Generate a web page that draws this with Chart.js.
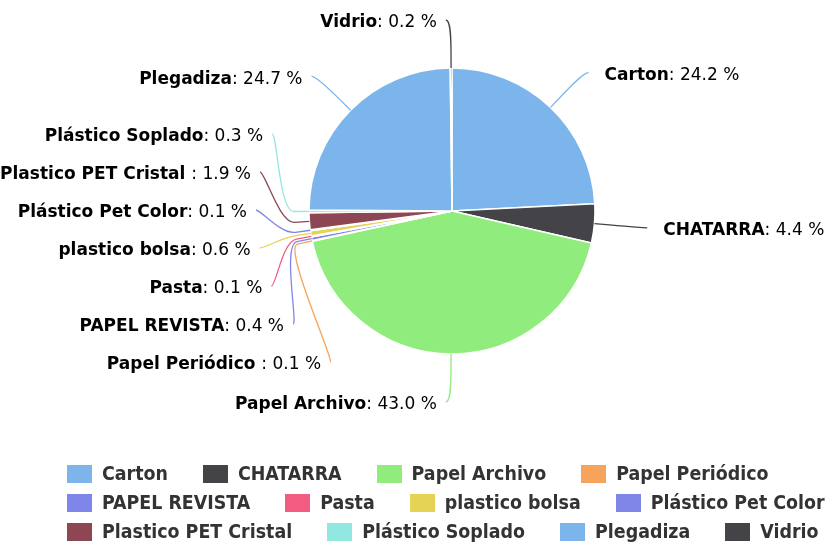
<!DOCTYPE html>
<html>
<head>
<meta charset="utf-8">
<script src="https://cdn.jsdelivr.net/npm/chart.js@4.4.1/dist/chart.umd.min.js"></script>
<style>
  html, body { margin: 0; padding: 0; background: #ffffff; overflow: hidden; }
  #wrap { position: relative; width: 829px; height: 543px; }
  #legend {
    position: absolute; left: 67px; top: 464px; width: 790px;
    display: flex; flex-wrap: wrap; column-gap: 35px; row-gap: 10px;
    font-family: "DejaVu Sans Condensed", "DejaVu Sans", sans-serif;
    font-stretch: condensed; font-weight: bold; font-size: 19.4px; color: #333333;
  }
  .item { display: flex; align-items: center; height: 19px; line-height: 19px; white-space: nowrap; }
  .box { width: 25px; height: 18px; margin-right: 10px; flex: none; }
</style>
</head>
<body>
<div id="wrap">
  <canvas id="c"></canvas>
  <div id="legend"></div>
</div>
<script>
// ---- data ----
const categories = ['Carton', 'CHATARRA', 'Papel Archivo', 'Papel Periódico ', 'PAPEL REVISTA', 'Pasta',
  'plastico bolsa', 'Plástico Pet Color', 'Plastico PET Cristal ', 'Plástico Soplado', 'Plegadiza', 'Vidrio'];
const shares = [24.2, 4.4, 43.0, 0.1, 0.4, 0.1, 0.6, 0.1, 1.9, 0.3, 24.7, 0.2];
const colors = ['#7cb5ec', '#434348', '#90ed7d', '#f7a35c', '#8085e9', '#f15c80',
  '#e4d354', '#8085e8', '#8d4653', '#91e8e1', '#7cb5ec', '#434348'];

// ---- Highcharts-style outside labels with slot distribution ----
const pieLabels = {
  id: 'pieLabels',
  afterDraw(chart, args, opts) {
    const meta = chart.getDatasetMeta(0);
    const arcs = meta.data;
    if (!arcs.length) return;
    const ctx = chart.ctx;
    const p0 = arcs[0].getProps(['x', 'y', 'outerRadius'], true);
    const cx = p0.x, cy = p0.y, r = p0.outerRadius;
    const R = r + opts.distance, off = opts.connectorOffset, lh = opts.slotHeight;
    const data = chart.data.datasets[0].data;
    const total = data.reduce((s, v) => s + v, 0);
    const pts = arcs.map((arc, i) => {
      const p = arc.getProps(['startAngle', 'endAngle'], true);
      const a = (p.startAngle + p.endAngle) / 2;
      return {
        i, a, half: (a > Math.PI / 2 || a < -Math.PI / 2) ? 1 : 0,
        ny: cy + Math.sin(a) * R,
        x2: cx + Math.cos(a) * (r + off), y2: cy + Math.sin(a) * (r + off),
        x3: cx + Math.cos(a) * r, y3: cy + Math.sin(a) * r
      };
    });
    const top = Math.max(0, cy - R), bottom = Math.min(cy + R, chart.height);
    [0, 1].forEach(h => {
      const points = pts.filter(p => p.half === h).sort((a, b) => h === 0 ? a.a - b.a : b.a - a.a);
      if (!points.length) return;
      const slots = [];
      for (let pos = top; pos <= bottom + 1e-6; pos += lh) slots.push(pos);
      const n = points.length, sl = slots.length;
      const used = [];
      points.forEach((p, j) => {
        let closest = 9999, si = 0;
        for (let k = 0; k < sl; k++) {
          const d = Math.abs(slots[k] - p.ny);
          if (d < closest) { closest = d; si = k; }
        }
        if (si < j && slots[j] !== null) {
          si = j;
        } else if (sl < n - j + si && slots[j] !== null) {
          si = sl - n + j;
          while (slots[si] === null) si++;
        } else {
          while (slots[si] === null) si++;
        }
        used.push({ i: si, y: slots[si] });
        slots[si] = null;
      });
      used.sort((a, b) => b.y - a.y);
      points.forEach(p => {
        const s = used.pop();
        let y = s.y;
        if ((p.ny > y && slots[s.i + 1] !== null) || (p.ny < y && slots[s.i - 1] !== null)) {
          y = Math.min(Math.max(0, p.ny), chart.height);
        }
        const yy = (Math.abs(y - (cy - R)) < 1e-6 || Math.abs(y - (cy + R)) < 1e-6) ? p.ny : y;
        const k = Math.max(-1, Math.min(1, (yy - cy) / R));
        p.lx = cx + (h ? -1 : 1) * Math.cos(Math.asin(k)) * R;
        p.ly = y;
      });
    });

    ctx.save();
    pts.forEach(p => {
      const left = p.half === 1;
      // connector
      ctx.beginPath();
      ctx.strokeStyle = colors[p.i];
      ctx.lineWidth = 1.3;
      ctx.moveTo(p.lx + (left ? -5 : 5), p.ly);
      ctx.bezierCurveTo(p.lx, p.ly, 2 * p.x2 - p.x3, 2 * p.y2 - p.y3, p.x2, p.y2);
      ctx.lineTo(p.x3, p.y3);
      ctx.stroke();
      // text
      const name = categories[p.i];
      const rest = ': ' + (data[p.i] / total * 100).toFixed(1) + ' %';
      const boldFont = 'bold ' + opts.fontSize + 'px "DejaVu Sans", sans-serif';
      const normFont = opts.fontSize + 'px "DejaVu Sans", sans-serif';
      ctx.font = boldFont; const w1 = ctx.measureText(name).width;
      ctx.font = normFont; const w2 = ctx.measureText(rest).width;
      const tx = left ? p.lx - opts.padLeft - (w1 + w2) : p.lx + opts.padRight;
      const ty = p.ly + 3;
      ctx.textBaseline = 'middle';
      ctx.textAlign = 'left';
      ctx.fillStyle = '#000000';
      ctx.font = boldFont; ctx.fillText(name, tx, ty);
      ctx.font = normFont; ctx.fillText(rest, tx + w1, ty);
    });
    ctx.restore();
  }
};

const canvas = document.getElementById('c');
canvas.width = 829; canvas.height = 543;
const chart = new Chart(canvas, {
  type: 'pie',
  data: {
    labels: categories,
    datasets: [{
      data: shares,
      backgroundColor: colors,
      borderColor: '#ffffff',
      borderWidth: 1.5,
      radius: 143
    }]
  },
  options: {
    responsive: false,
    animation: false,
    events: [],
    layout: { padding: { left: 100, right: 25, top: 20, bottom: 141 } },
    plugins: {
      legend: { display: false },
      tooltip: { enabled: false },
      title: { display: false },
      pieLabels: { distance: 48, connectorOffset: 15, slotHeight: 38, padLeft: 14, padRight: 21, fontSize: 17 }
    }
  },
  plugins: [pieLabels]
});

// ---- HTML legend built from the same arrays ----
const legend = document.getElementById('legend');
categories.forEach((c, i) => {
  const item = document.createElement('div');
  item.className = 'item';
  const box = document.createElement('span');
  box.className = 'box';
  box.style.background = colors[i];
  const txt = document.createElement('span');
  txt.textContent = c.trim();
  item.appendChild(box); item.appendChild(txt);
  legend.appendChild(item);
});
</script>
</body>
</html>
